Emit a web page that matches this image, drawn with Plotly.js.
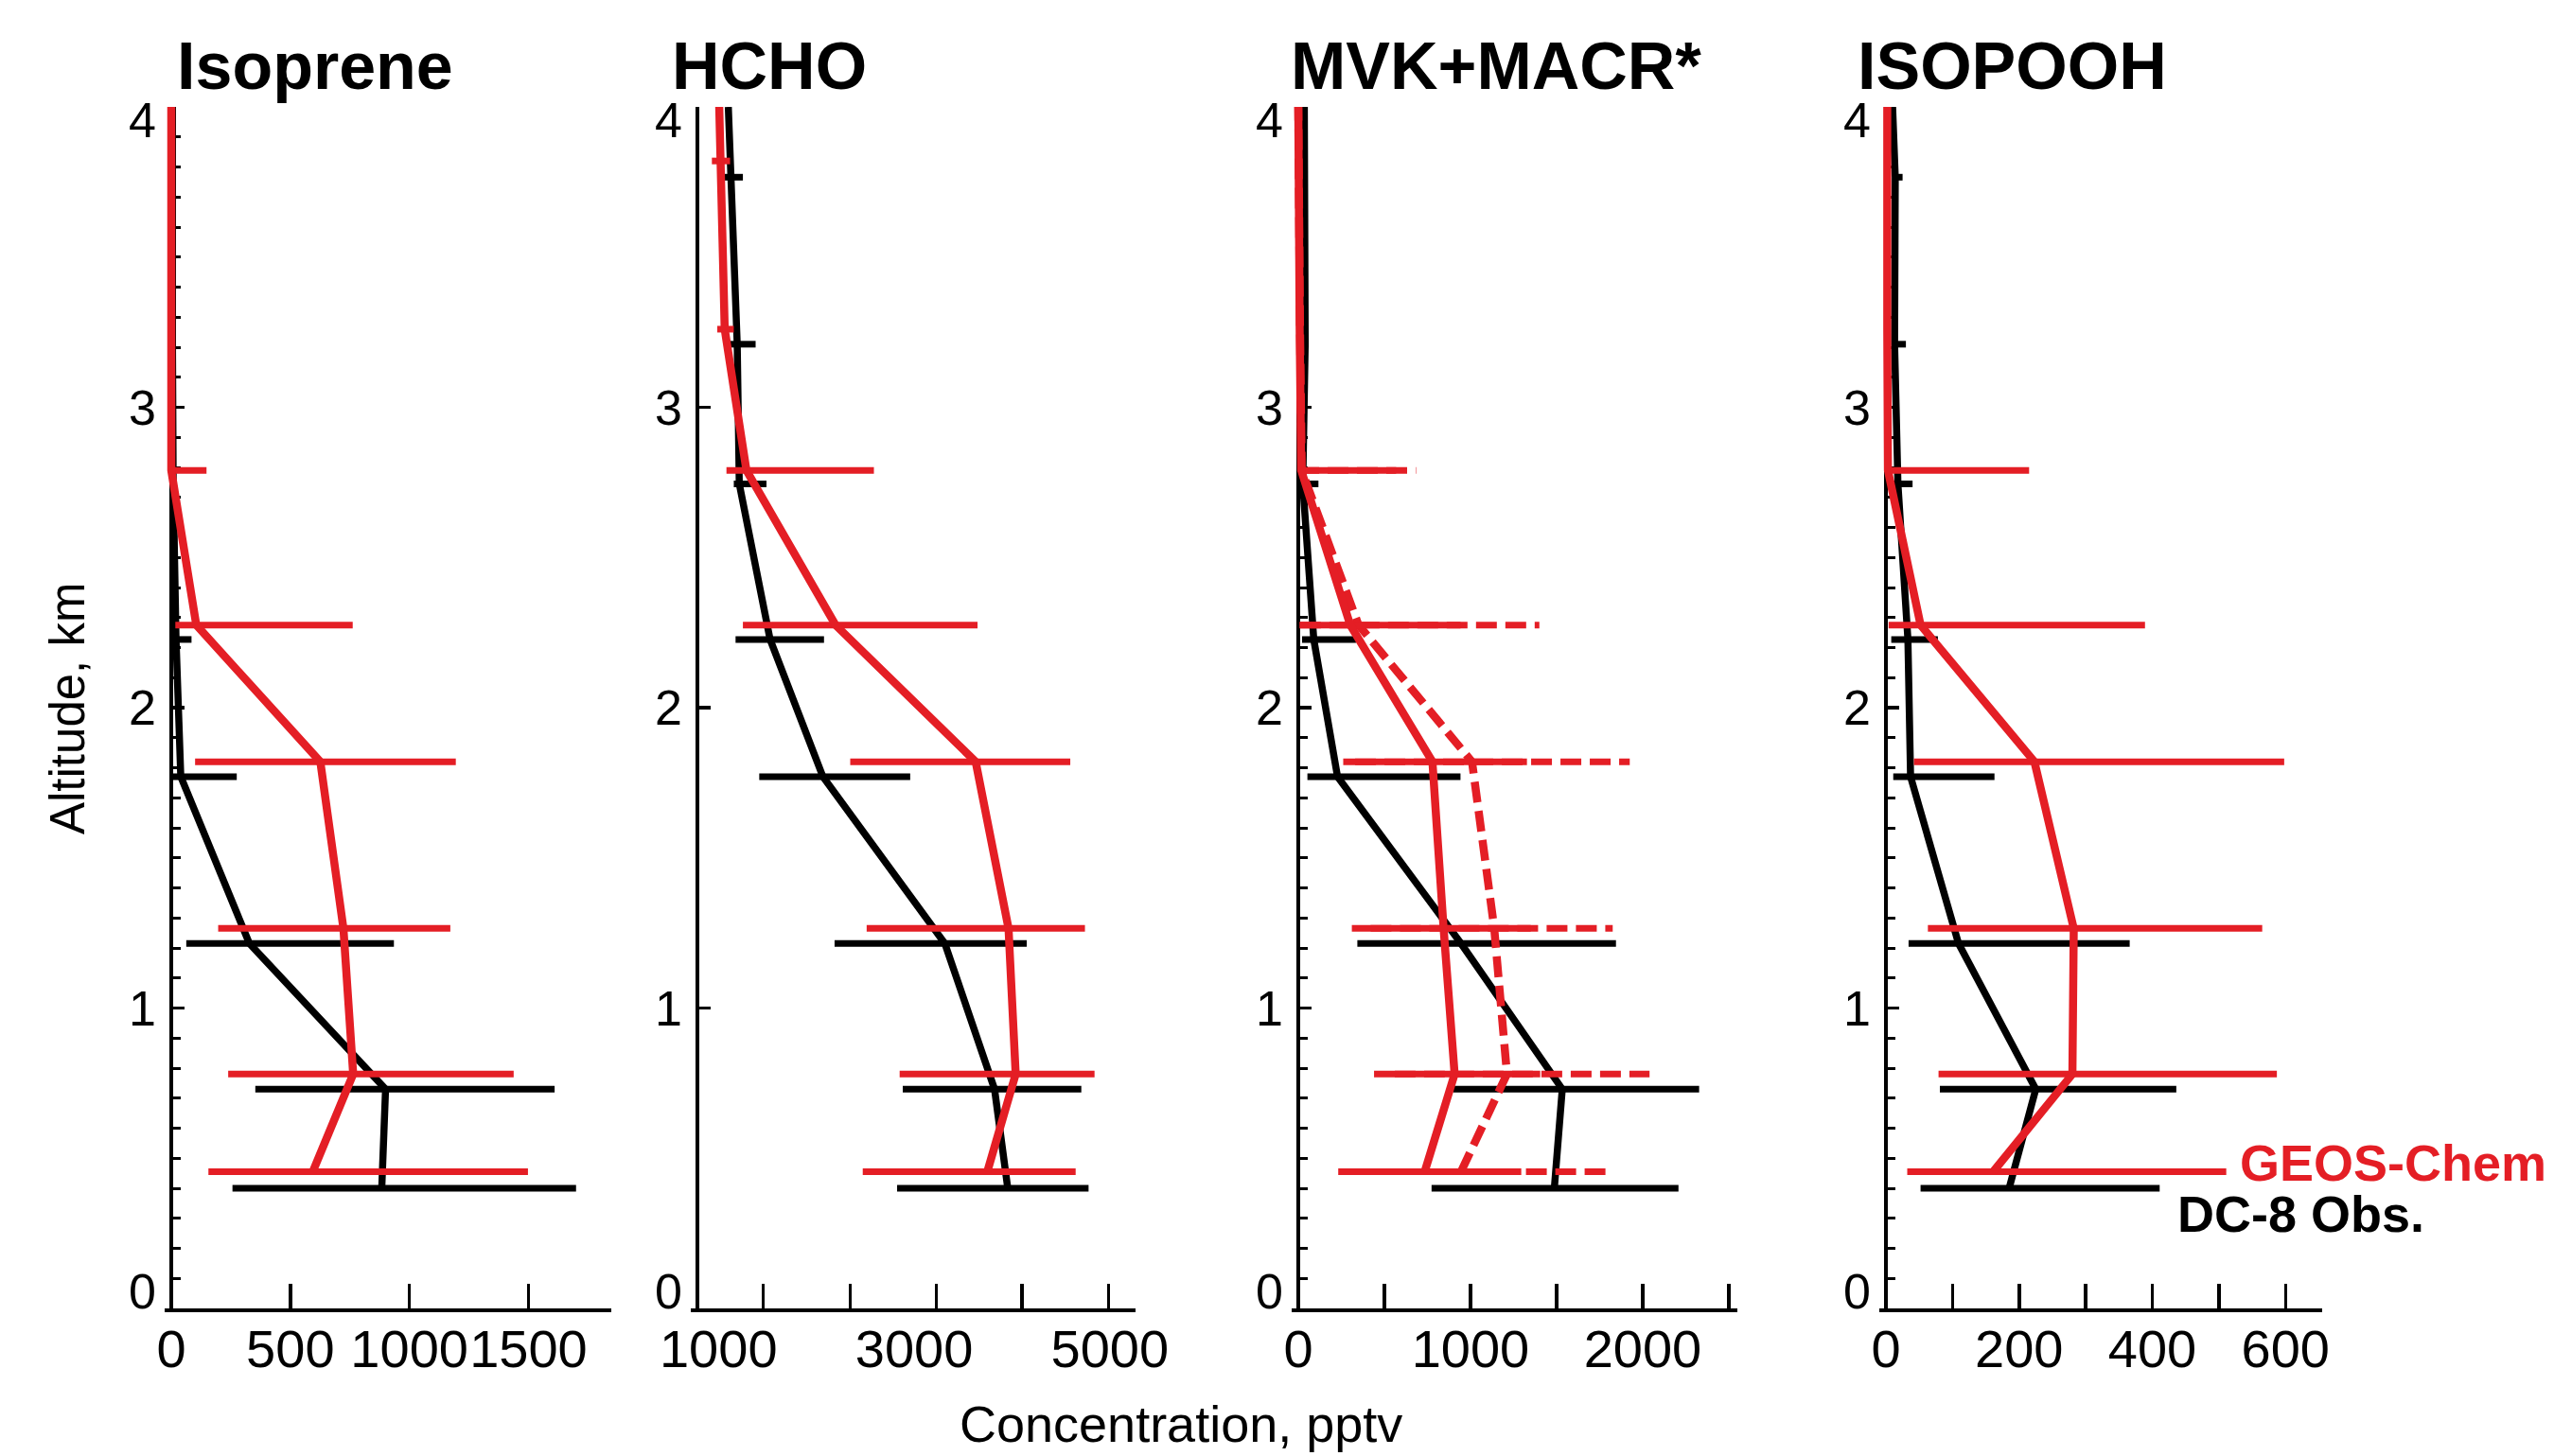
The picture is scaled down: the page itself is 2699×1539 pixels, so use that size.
<!DOCTYPE html>
<html><head><meta charset="utf-8">
<script src="https://cdn.plot.ly/plotly-3.0.1.min.js"></script>
<style>html,body{margin:0;padding:0;background:#fff}</style>
</head><body><div id="chart" style="width:2699px;height:1539px"></div>
<script>
// ---------------- DATA ----------------
// altitude of each bin, km (bottom -> top); last entry = top of the frame
const altObs = [0.40, 0.73, 1.215, 1.77, 2.227, 2.745, 3.21, 3.766, 4.0];
const altMod = [0.455, 0.78, 1.265, 1.82, 2.275, 2.79, 3.26, 3.82, 4.0];
const altTicks = [0, 1, 2, 3, 4];

// Isoprene (pptv)
const isopObs   = [884, 900, 328, 40, 20, 8, 5, 5, 5];
const isopObsLo = [257, 353, 63, 5, 0, 0, 0, 0, null];
const isopObsHi = [1700, 1610, 935, 275, 85, 20, 12, 12, null];
const isopMod   = [594, 764, 723, 626, 105, 0, 0, 0, 0];
const isopModLo = [156, 239, 197, 100, 17, 0, 0, 0, null];
const isopModHi = [1498, 1438, 1172, 1195, 762, 148, 8, 8, null];
const isopTickLabels = [0, 500, 1000, 1500];
const isopTickMarks  = [0, 500, 1000, 1500];

// HCHO (pptv)
const hchoObs   = [3957, 3822, 3314, 2068, 1528, 1213, 1192, 1127, 1101];
const hchoObsLo = [2826, 2884, 2187, 1417, 1175, 1157, 1101, 1064, null];
const hchoObsHi = [4783, 4709, 4151, 2960, 2079, 1491, 1380, 1250, null];
const hchoMod   = [3748, 4038, 3965, 3629, 2197, 1286, 1064, 1016, 1008];
const hchoModLo = [2475, 2852, 2515, 2347, 1250, 1082, 988, 933, null];
const hchoModHi = [4651, 4844, 4746, 4596, 3648, 2589, 1157, 1119, null];
const hchoTickLabels = [1000, 3000, 5000];
const hchoTickMarks  = [1459, 2345, 3225, 4103, 4989];

// MVK+MACR* (pptv)
const mvkObs    = [1487, 1533, 945, 228, 90, 26, 40, 35, 35];
const mvkObsLo  = [774, 899, 343, 53, 22, 10, 20, 20, null];
const mvkObsHi  = [2208, 2328, 1845, 942, 335, 117, 60, 50, null];
const mvkMod    = [734, 908, 844, 779, 302, 17, 8, 2, 0];
const mvkModLo  = [232, 440, 311, 261, 7, 0, 0, 0, null];
const mvkModHi  = [1295, 1405, 1350, 1328, 942, 568, 20, 15, null];
const mvkMod2   = [945, 1212, 1138, 1009, 350, 20, 10, 2, 0];
const mvkMod2Lo = [300, 560, 420, 330, 10, 0, 0, 0, null];
const mvkMod2Hi = [1800, 2040, 1826, 1925, 1400, 684, 20, 15, null];
const mvkTickLabels = [0, 1000, 2000];
const mvkTickMarks  = [500, 1000, 1500, 2000, 2500];

// ISOPOOH (pptv)
const isoObs    = [185, 225, 109, 37, 33, 18, 13, 14, 10];
const isoObsLo  = [52, 81, 34, 11, 8, 10, 10, 10, null];
const isoObsHi  = [411, 436, 366, 163, 78, 40, 30, 25, null];
const isoMod    = [161, 280, 282, 223, 52, 3, 2, 2, 2];
const isoModLo  = [32, 79, 63, 42, 4, 0, 0, 0, null];
const isoModHi  = [511, 587, 565, 598, 389, 215, 5, 5, null];
const isoTickLabels = [0, 200, 400, 600];
const isoTickMarks  = [100, 200, 300, 400, 500, 600];

const panelTitles = ['Isoprene', 'HCHO', 'MVK+MACR*', 'ISOPOOH'];
const legendNames = ['GEOS-Chem', 'DC-8 Obs.'];

// ---------------- LAYOUT / STYLE ----------------
const W = 2699, H = 1539;
const RED = '#e41e25', BLACK = '#000000';
const FONT = 'Liberation Sans, Arial, Helvetica, sans-serif';
const yDom = [(H - 1383) / H, (H - 113) / H];
const PAD = 7; // px of plot area kept left of x-origin so thick lines at 0 are not clipped
// vertical nudge of the y tick labels (the end labels sit inside the axis span)
const yLabelShift = {0: 18, 4: -14};

const panels = [
  {axisPx: 181,  endPx: 646,  xmin: 0,   xmax: 1848, marks: isopTickMarks, labels: isopTickLabels, minorY: true,
   obs: isopObs, obsLo: isopObsLo, obsHi: isopObsHi, mod: isopMod, modLo: isopModLo, modHi: isopModHi},
  {axisPx: 737,  endPx: 1200, xmin: 785, xmax: 5263, marks: hchoTickMarks, labels: hchoTickLabels, minorY: false,
   obs: hchoObs, obsLo: hchoObsLo, obsHi: hchoObsHi, mod: hchoMod, modLo: hchoModLo, modHi: hchoModHi},
  {axisPx: 1372, endPx: 1836, xmin: 0,   xmax: 2550, marks: mvkTickMarks, labels: mvkTickLabels, minorY: true,
   obs: mvkObs, obsLo: mvkObsLo, obsHi: mvkObsHi, mod: mvkMod, modLo: mvkModLo, modHi: mvkModHi,
   mod2: mvkMod2, mod2Lo: mvkMod2Lo, mod2Hi: mvkMod2Hi},
  {axisPx: 1993, endPx: 2454, xmin: 0,   xmax: 655,  marks: isoTickMarks, labels: isoTickLabels, minorY: true,
   obs: isoObs, obsLo: isoObsLo, obsHi: isoObsHi, mod: isoMod, modLo: isoModLo, modHi: isoModHi}
];

function segs(lo, hi, alt) {
  const x = [], y = [];
  for (let i = 0; i < alt.length; i++) {
    if (lo[i] == null || hi[i] == null) continue;
    x.push(lo[i], hi[i], null);
    y.push(alt[i], alt[i], null);
  }
  return {x, y};
}

const traces = [];
const layout = {
  width: W, height: H,
  margin: {l: 0, r: 0, t: 0, b: 0},
  paper_bgcolor: '#ffffff', plot_bgcolor: 'rgba(0,0,0,0)',
  showlegend: false, hovermode: false,
  font: {family: FONT, color: BLACK},
  annotations: []
};

panels.forEach((p, i) => {
  const n = i + 1;
  const xa = n === 1 ? 'x' : 'x' + n;
  const ya = n === 1 ? 'y' : 'y' + n;
  const xo = 'x' + (n + 4);
  const pxPerUnit = (p.endPx - p.axisPx) / (p.xmax - p.xmin);
  const lo = p.xmin - PAD / pxPerUnit;
  const dom = [(p.axisPx - PAD) / W, p.endPx / W];

  layout['xaxis' + (n === 1 ? '' : n)] = {
    domain: dom, range: [lo, p.xmax], anchor: ya,
    showline: true, linewidth: 4, linecolor: BLACK,
    ticks: 'inside', ticklen: 26, tickwidth: 3.5, tickcolor: BLACK,
    tickmode: 'array', tickvals: p.marks, showticklabels: false,
    showgrid: false, zeroline: false, layer: 'below traces', fixedrange: true
  };
  layout['xaxis' + (n + 4)] = {
    domain: dom, range: [lo, p.xmax], anchor: ya, overlaying: xa,
    showline: false, ticks: '', tickmode: 'array', tickvals: p.labels,
    ticktext: p.labels.map(String), tickangle: 0,
    tickfont: {family: FONT, size: 56, color: BLACK}, ticklabelstandoff: 5,
    showgrid: false, zeroline: false, fixedrange: true
  };
  const yax = {
    domain: yDom, range: [0, 4], anchor: 'free', position: p.axisPx / W,
    showline: true, linewidth: 4, linecolor: BLACK,
    ticks: 'inside', ticklen: 12, tickwidth: 3.5, tickcolor: BLACK,
    tickmode: 'array', tickvals: altTicks, showticklabels: false,
    showgrid: false, zeroline: false, layer: 'below traces', fixedrange: true
  };
  if (p.minorY) yax.minor = {dtick: 0.1, ticks: 'inside', ticklen: 8, tickwidth: 3, tickcolor: BLACK};
  layout['yaxis' + (n === 1 ? '' : n)] = yax;

  // y tick labels
  altTicks.forEach(v => {
    layout.annotations.push({text: String(v), xref: 'paper', yref: ya, x: p.axisPx / W, y: v,
      xanchor: 'right', yanchor: 'middle', xshift: -14, yshift: yLabelShift[v] || 0, showarrow: false,
      font: {family: FONT, size: 52, color: BLACK}});
  });

  const base = {type: 'scatter', mode: 'lines', xaxis: xa, yaxis: ya, hoverinfo: 'skip'};
  const ob = segs(p.obsLo, p.obsHi, altObs);
  traces.push(Object.assign({}, base, {x: ob.x, y: ob.y, line: {color: BLACK, width: 7}}));
  traces.push(Object.assign({}, base, {x: p.obs, y: altObs, line: {color: BLACK, width: 7.5}}));
  if (p.mod2) {
    const m2 = segs(p.mod2Lo, p.mod2Hi, altMod);
    traces.push(Object.assign({}, base, {x: m2.x, y: m2.y, line: {color: RED, width: 7, dash: '22px,9px'}}));
    traces.push(Object.assign({}, base, {x: p.mod2, y: altMod, line: {color: RED, width: 8.5, dash: '22px,9px'}}));
  }
  const mb = segs(p.modLo, p.modHi, altMod);
  traces.push(Object.assign({}, base, {x: mb.x, y: mb.y, line: {color: RED, width: 7}}));
  traces.push(Object.assign({}, base, {x: p.mod, y: altMod, line: {color: RED, width: 8.5}}));
  // empty trace so the label axis is registered
  traces.push({type: 'scatter', mode: 'lines', x: [], y: [], xaxis: xo, yaxis: ya, hoverinfo: 'skip'});
});

// titles
const titleX = [185, 708, 1362, 1961];
panelTitles.forEach((t, i) => {
  layout.annotations.push({text: t, xref: 'paper', yref: 'paper', x: titleX[i] / W, y: 1 - 70 / H,
    xanchor: 'left', yanchor: 'middle', showarrow: false,
    font: {family: FONT, size: 70, color: BLACK, weight: 700}});
});
// legend text
layout.annotations.push({text: legendNames[0], xref: 'paper', yref: 'paper', x: 2365 / W, y: 1 - 1229 / H,
  xanchor: 'left', yanchor: 'middle', showarrow: false, font: {family: FONT, size: 54, color: RED, weight: 700}});
layout.annotations.push({text: legendNames[1], xref: 'paper', yref: 'paper', x: 2299 / W, y: 1 - 1283 / H,
  xanchor: 'left', yanchor: 'middle', showarrow: false, font: {family: FONT, size: 54, color: BLACK, weight: 700}});
// axis titles
layout.annotations.push({text: 'Altitude, km', xref: 'paper', yref: 'paper', x: 72 / W, y: 1 - 749 / H,
  xanchor: 'center', yanchor: 'middle', textangle: -90, showarrow: false, font: {family: FONT, size: 51, color: BLACK}});
layout.annotations.push({text: 'Concentration, pptv', xref: 'paper', yref: 'paper', x: 1248 / W, y: 1 - 1505 / H,
  xanchor: 'center', yanchor: 'middle', showarrow: false, font: {family: FONT, size: 54, color: BLACK}});

Plotly.newPlot('chart', traces, layout, {displayModeBar: false, staticPlot: true});
</script></body></html>
